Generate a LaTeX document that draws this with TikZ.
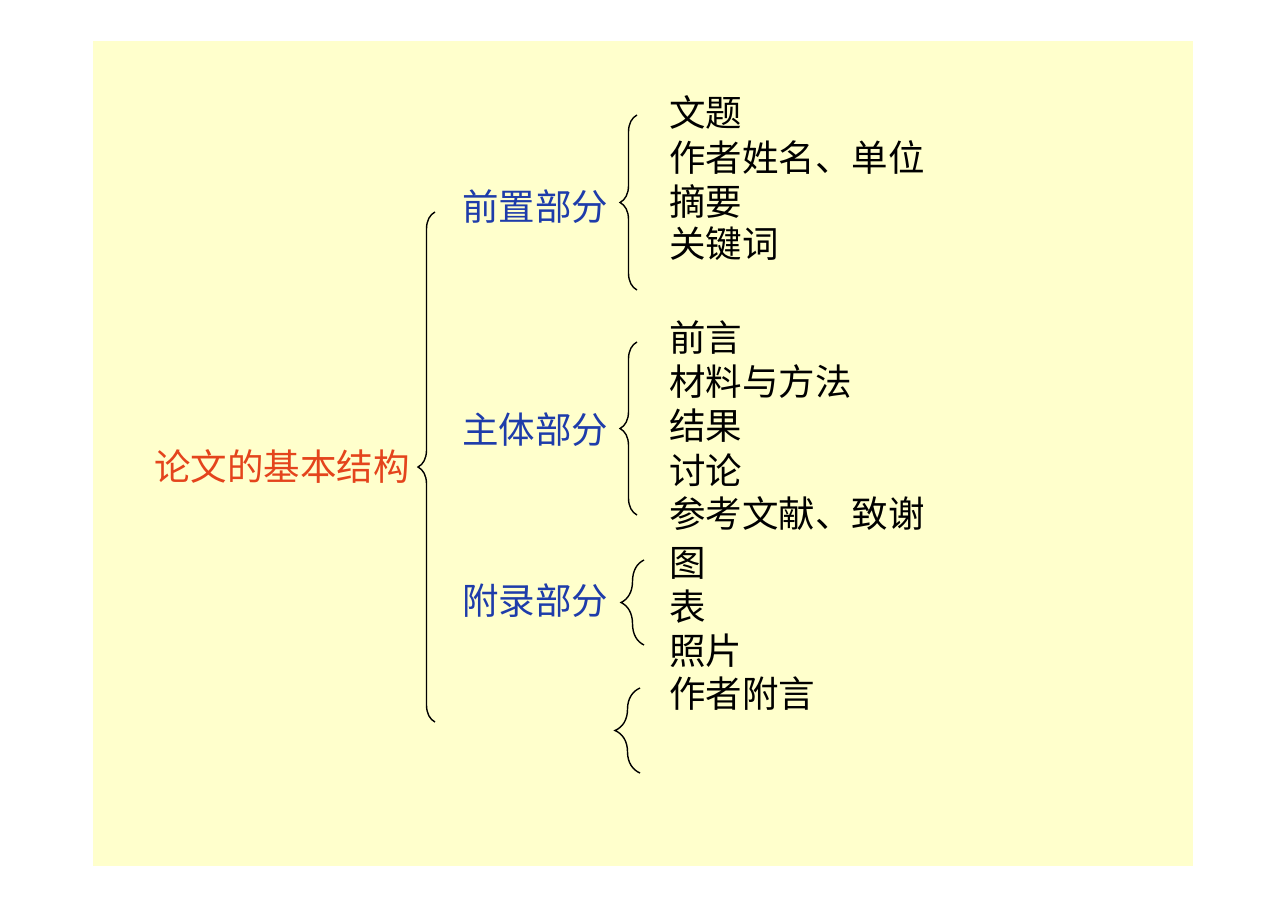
\documentclass[tikz,border=0pt]{standalone}
\usepackage{fontspec}
\setmainfont{Noto Sans CJK SC}
\usetikzlibrary{decorations.pathreplacing}
\definecolor{paper}{RGB}{255,255,204}
\definecolor{titlered}{RGB}{228,68,28}
\definecolor{partblue}{RGB}{30,60,170}
\tikzset{
  title/.style={text=titlered, anchor=west, inner sep=0pt},
  part/.style={text=partblue, anchor=west, inner sep=0pt},
  item/.style={anchor=west, inner sep=0pt},
  bracel/.style={decorate, decoration={brace, amplitude=#1}, line width=1.4pt}
}
\begin{document}
\begin{tikzpicture}[x=1pt, y=-1pt, font=\fontsize{36.5}{40}\selectfont]
    % Page and background
    \useasboundingbox (0,0) rectangle (1287,910);
    \fill[paper] (93,41) rectangle (1193,866);

    % Main title
    \node[title] (root) at (154,467) {论文的基本结构};

    % Big brace
    \coordinate (rootb) at (435,722);
    \coordinate (roott) at (435,212);
    \draw[bracel=17pt] (rootb) -- (roott);

    % Parts
    \node[part] (front) at (462,207) {前置部分};
    \node[part] (body) at (462,430) {主体部分};
    \node[part] (appx) at (462,601) {附录部分};

    % Front matter
    \coordinate (frontb) at (637,290);
    \coordinate (frontt) at (637,115);
    \draw[bracel=17pt] (frontb) -- (frontt);
    \node[item] (f1) at (669,112) {文题};
    \node[item] (f2) at (669,157) {作者姓名、单位};
    \node[item] (f3) at (669,201) {摘要};
    \node[item] (f4) at (669,244) {关键词};

    % Main body
    \coordinate (bodyb) at (637,515);
    \coordinate (bodyt) at (637,342);
    \draw[bracel=17pt] (bodyb) -- (bodyt);
    \node[item] (b1) at (669,338) {前言};
    \node[item] (b2) at (669,382) {材料与方法};
    \node[item] (b3) at (669,426) {结果};
    \node[item] (b4) at (669,470) {讨论};
    \node[item] (b5) at (669,514) {参考文献、致谢};

    % Appendix
    \coordinate (appxb) at (644,645);
    \coordinate (appxt) at (644,560);
    \draw[bracel=23pt] (appxb) -- (appxt);
    \node[item] (a1) at (669,563) {图};
    \node[item] (a2) at (669,607) {表};
    \node[item] (a3) at (669,651) {照片};

    % Author's note
    \coordinate (noteb) at (640,773);
    \coordinate (notet) at (640,688);
    \draw[bracel=25pt] (noteb) -- (notet);
    \node[item] (n1) at (669,694) {作者附言};
\end{tikzpicture}
\end{document}
